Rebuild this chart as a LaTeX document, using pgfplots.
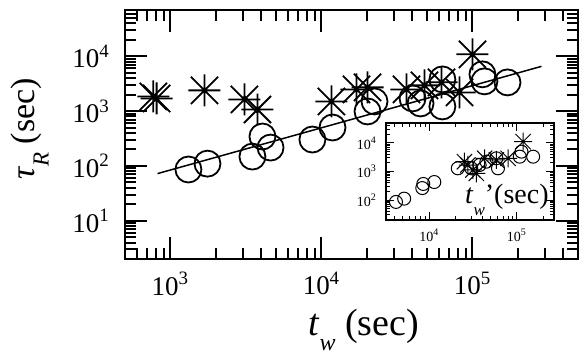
\documentclass[border=0pt]{standalone}
\usepackage{fontspec}
\setmainfont{Liberation Serif}
\usepackage{pgfplots}
\pgfplotsset{compat=1.18}
\pgfdeclareplotmark{ast8}{%
  \pgfpathmoveto{\pgfqpoint{-\pgfplotmarksize}{0pt}}\pgfpathlineto{\pgfqpoint{\pgfplotmarksize}{0pt}}%
  \pgfpathmoveto{\pgfqpoint{0pt}{-\pgfplotmarksize}}\pgfpathlineto{\pgfqpoint{0pt}{\pgfplotmarksize}}%
  \pgfpathmoveto{\pgfqpoint{-0.85\pgfplotmarksize}{-0.85\pgfplotmarksize}}\pgfpathlineto{\pgfqpoint{0.85\pgfplotmarksize}{0.85\pgfplotmarksize}}%
  \pgfpathmoveto{\pgfqpoint{-0.85\pgfplotmarksize}{0.85\pgfplotmarksize}}\pgfpathlineto{\pgfqpoint{0.85\pgfplotmarksize}{-0.85\pgfplotmarksize}}%
  \pgfusepathqstroke}
\newcommand{\tl}[1]{10\textsuperscript{#1}}
\begin{document}
\begin{tikzpicture}[x=1pt,y=1pt]
\useasboundingbox (0,0) rectangle (291,177.5);
\begin{axis}[at={(62.5pt,48pt)}, anchor=south west, scale only axis,
  width=226.5pt, height=124.5pt,
  xmode=log, ymode=log, xmin=500, xmax=5e5, ymin=2, ymax=7e4,
  axis line style={line width=1pt},
  xtick={1e3,1e4,1e5}, xticklabels={\tl{3},\tl{4},\tl{5}},
  ytick={10,100,1000,10000}, yticklabels={\tl{1},\tl{2},\tl{3},\tl{4}},
  minor xtick={600,700,800,900,2000,3000,4000,5000,6000,7000,8000,9000,20000,30000,40000,50000,60000,70000,80000,90000,200000,300000,400000},
  minor ytick={3,4,5,6,7,8,9,20,30,40,50,60,70,80,90,200,300,400,500,600,700,800,900,2000,3000,4000,5000,6000,7000,8000,9000,20000,30000,40000,50000,60000},
  major tick length=11pt, minor tick length=5.5pt,
  every tick/.style={line width=1pt, black},
  tick label style={font=\fontsize{13.5}{14}\selectfont},
  xticklabel style={yshift=-3pt},
  yticklabel style={xshift=-4pt},
  clip=false]
\addplot[black, line width=0.75pt] coordinates {(821,72.4) (286500,6560)};
\addplot[only marks, mark=ast8, mark size=8pt, line width=0.9pt] coordinates {
(770,1850) (810,1700) (1680,2390) (3090,1630) (3770,1070) (11640,1500) (17060,2490) (20180,2710) (36560,2490) (48100,2950) (62370,3350) (82070,2190) (100000,10880)};
\addplot[only marks, mark=o, mark size=6.5pt, line width=0.9pt] coordinates {
(1315,86) (1758,110) (3490,148) (4066,344) (4600,216) (8710,303) (11830,502) (20180,986) (22450,1503) (40100,1706) (45300,1380) (63200,3790) (63200,1217) (116400,4690) (120000,3490) (170600,3342)};
\end{axis}
\begin{axis}[at={(193pt,67.5pt)}, anchor=south west, scale only axis,
  width=84pt, height=48.5pt,
  xmode=log, ymode=log, xmin=3200, xmax=2.66e5, ymin=20, ymax=5e4,
  axis background/.style={fill=white},
  axis line style={line width=0.6pt},
  xtick={1e4,1e5}, xticklabels={\tl{4},\tl{5}},
  ytick={100,1000,10000}, yticklabels={\tl{2},\tl{3},\tl{4}},
  minor xtick={4000,5000,6000,7000,8000,9000,20000,30000,40000,50000,60000,70000,80000,90000,200000},
  minor ytick={30,40,50,60,70,80,90,200,300,400,500,600,700,800,900,2000,3000,4000,5000,6000,7000,8000,9000,20000,30000,40000},
  major tick length=4pt, minor tick length=2pt,
  every tick/.style={line width=0.5pt, black},
  tick label style={font=\fontsize{7}{8}\selectfont},
  xticklabel style={yshift=-1pt},
  yticklabel style={xshift=-1pt},
  clip=false]
\addplot[only marks, mark=o, mark size=3.25pt, line width=0.5pt] coordinates {
(4160,86) (5160,112) (8310,263) (8530,366) (11400,428) (21150,1294) (30150,1294) (37600,1690) (44900,2208) (58400,2904) (60900,1294) (108000,3306) (113000,4960) (153700,3306)};
\addplot[only marks, mark=ast8, mark size=4.5pt, line width=0.5pt] coordinates {
(25200,2208) (27540,1690) (31500,1130) (34450,863) (42850,2904) (58400,2535) (79400,2904) (118000,11100)};
\end{axis}
\node[anchor=center, rotate=90, font=\fontsize{17}{19}\selectfont] at (15,113) {\textit{τ}\raisebox{-0.4em}{\fontsize{11.5}{12}\selectfont\textit{R}}\ (sec)};
\node[anchor=base west, inner sep=0pt, font=\fontsize{19}{20}\selectfont] at (154,10) {\textit{t}\raisebox{-0.4em}{\fontsize{12}{12}\selectfont\textit{w}}\ (sec)};
\node[anchor=base east, inner sep=0pt, font=\fontsize{14}{15}\selectfont] at (274.5,76) {\textit{t}\raisebox{-0.45em}{\fontsize{8.5}{9}\selectfont\textit{w}}'(sec)};
\end{tikzpicture}
\end{document}
